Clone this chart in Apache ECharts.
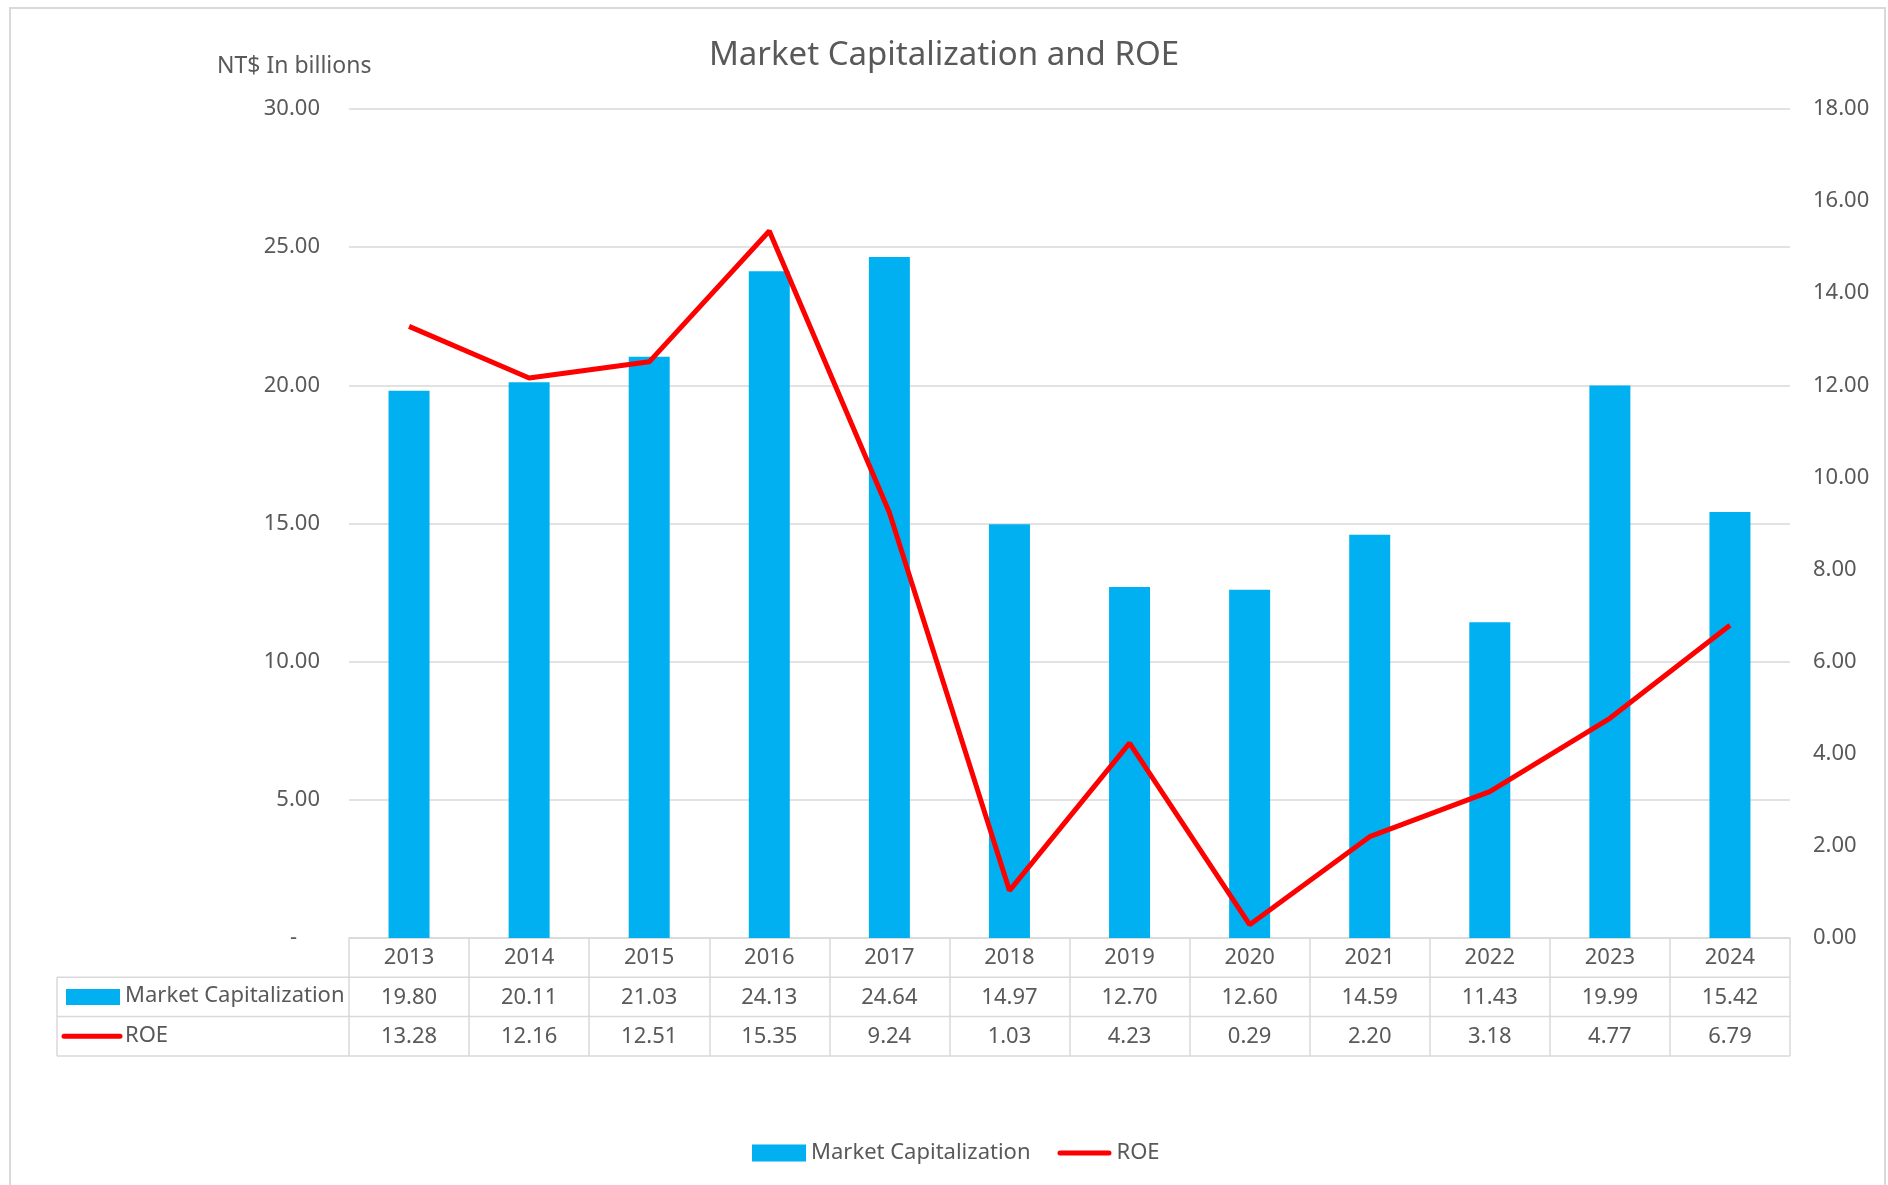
<!DOCTYPE html>
<html>
<head>
<meta charset="utf-8">
<title>Market Capitalization and ROE</title>
<script src="https://cdn.jsdelivr.net/npm/echarts@6/dist/echarts.min.js"></script>
<style>
  html, body { margin: 0; padding: 0; background: #fff; }
  #chart { width: 1888px; height: 1185px; }
</style>
</head>
<body>
<div id="chart"></div>
<script>
// data
const years = ['2013', '2014', '2015', '2016', '2017', '2018', '2019', '2020', '2021', '2022', '2023', '2024']
const marketCap = [19.80, 20.11, 21.03, 24.13, 24.64, 14.97, 12.70, 12.60, 14.59, 11.43, 19.99, 15.42]
const roe = [13.28, 12.16, 12.51, 15.35, 9.24, 1.03, 4.23, 0.29, 2.20, 3.18, 4.77, 6.79]

const FONT = 'Noto Sans'
const TEXT = '#595959'
const LINE = '#D9D9D9'
const BLUE = '#00B0F0'
const RED = '#FF0000'

// plot area
const G = { left: 349, right: 98, top: 109, bottom: 247 }
const plotRight = 1888 - G.right
const axisY = 1185 - G.bottom
const rowH = 39.3
const tableLeft = 57

const fmt = v => v.toFixed(2)

const chart = echarts.init(document.getElementById('chart'))

const tableLines = []
for (let i = 1; i <= 3; i++) {
  tableLines.push({
    type: 'line',
    shape: { x1: tableLeft, y1: axisY + rowH * i, x2: plotRight, y2: axisY + rowH * i },
    style: { stroke: LINE, lineWidth: 1.5 }
  })
}
tableLines.push({
  type: 'line',
  shape: { x1: tableLeft, y1: axisY + rowH, x2: tableLeft, y2: axisY + rowH * 3 },
  style: { stroke: LINE, lineWidth: 1.5 }
})

// thick rounded stroke used as the ROE legend key
const lineKey = 'path://M2.5,0H51.5A2.5,2.5,0,0,1,51.5,5H2.5A2.5,2.5,0,0,1,2.5,0Z'

const option = {
  animation: false,
  textStyle: { fontFamily: FONT },
  title: {
    text: 'Market Capitalization and ROE',
    left: 'center',
    top: 34,
    textStyle: { fontFamily: FONT, fontSize: 33, fontWeight: 'normal', color: TEXT }
  },
  legend: {
    left: 747,
    top: 1137,
    itemWidth: 54,
    itemHeight: 17,
    itemGap: 27,
    textStyle: { fontFamily: FONT, fontSize: 22, color: TEXT },
    data: [
      { name: 'Market Capitalization', icon: 'rect' },
      { name: 'ROE', icon: lineKey }
    ]
  },
  grid: { left: G.left, right: G.right, top: G.top, bottom: G.bottom },
  xAxis: [
    {
      type: 'category',
      data: years,
      position: 'bottom',
      axisLine: { show: true, lineStyle: { color: LINE, width: 1.5 } },
      axisTick: { show: true, length: rowH * 3, lineStyle: { color: LINE, width: 1.5 } },
      axisLabel: { margin: 9, fontSize: 22, color: TEXT, fontFamily: FONT, interval: 0 }
    },
    {
      type: 'category',
      data: marketCap.map(fmt),
      position: 'bottom',
      offset: rowH,
      axisLine: { show: false },
      axisTick: { show: false },
      axisLabel: { margin: 9, fontSize: 22, color: TEXT, fontFamily: FONT, interval: 0 }
    },
    {
      type: 'category',
      data: roe.map(fmt),
      position: 'bottom',
      offset: rowH * 2,
      axisLine: { show: false },
      axisTick: { show: false },
      axisLabel: { margin: 9, fontSize: 22, color: TEXT, fontFamily: FONT, interval: 0 }
    }
  ],
  yAxis: [
    {
      type: 'value',
      min: 0,
      max: 30,
      interval: 5,
      axisLine: { show: false },
      axisTick: { show: false },
      splitLine: { lineStyle: { color: LINE, width: 1.5 } },
      axisLabel: {
        margin: 29,
        fontSize: 22,
        color: TEXT,
        fontFamily: FONT,
        formatter: v => (v === 0 ? '-    ' : fmt(v))
      }
    },
    {
      type: 'value',
      min: 0,
      max: 18,
      interval: 2,
      axisLine: { show: false },
      axisTick: { show: false },
      splitLine: { show: false },
      axisLabel: { margin: 23, fontSize: 22, color: TEXT, fontFamily: FONT, formatter: fmt }
    }
  ],
  series: [
    {
      name: 'Market Capitalization',
      type: 'bar',
      data: marketCap,
      barWidth: 41,
      itemStyle: { color: BLUE }
    },
    {
      name: 'ROE',
      type: 'line',
      yAxisIndex: 1,
      data: roe,
      symbol: 'none',
      lineStyle: { color: RED, width: 5 },
      itemStyle: { color: RED },
      z: 5
    }
  ],
  graphic: [
    {
      type: 'rect',
      shape: { x: 10, y: 8, width: 1875, height: 1200 },
      style: { fill: 'none', stroke: LINE, lineWidth: 2 },
      silent: true
    },
    {
      type: 'text',
      left: 217,
      top: 55,
      style: { text: 'NT$ In billions', fontFamily: FONT, fontSize: 23, fill: TEXT }
    },
    ...tableLines,
    // row headers of the data table
    {
      type: 'rect',
      shape: { x: 66, y: axisY + rowH * 1.5 - 8, width: 54, height: 16 },
      style: { fill: BLUE }
    },
    {
      type: 'text',
      left: 125,
      top: axisY + rowH * 1.5 - 12,
      style: { text: 'Market Capitalization', fontFamily: FONT, fontSize: 22, fill: TEXT }
    },
    {
      type: 'line',
      shape: { x1: 64, y1: axisY + rowH * 2.5, x2: 120, y2: axisY + rowH * 2.5 },
      style: { stroke: RED, lineWidth: 5, lineCap: 'round' }
    },
    {
      type: 'text',
      left: 125,
      top: axisY + rowH * 2.5 - 12,
      style: { text: 'ROE', fontFamily: FONT, fontSize: 22, fill: TEXT }
    }
  ]
}

chart.setOption(option)
</script>
</body>
</html>
